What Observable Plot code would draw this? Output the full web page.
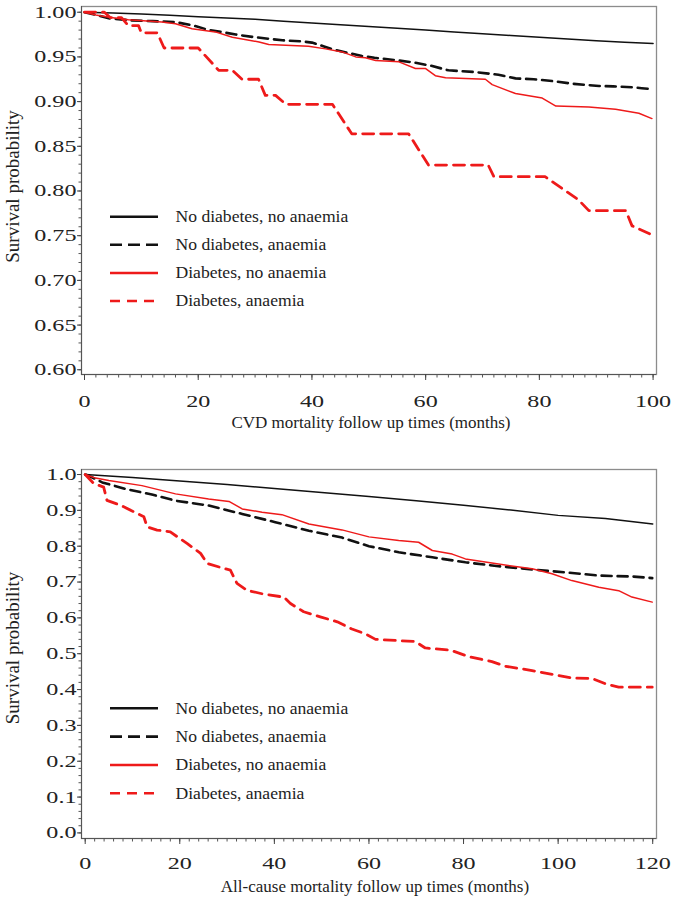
<!DOCTYPE html>
<html><head><meta charset="utf-8">
<script src="https://cdn.jsdelivr.net/npm/d3@7"></script>
<script src="https://cdn.jsdelivr.net/npm/@observablehq/plot@0.6"></script>
<style>
body{margin:0;background:#fff;}
#wrap{width:675px;height:898px;font-family:"Liberation Serif","Times New Roman",serif;}
#wrap svg{display:block;}
</style></head><body><div id="wrap"></div>
<script>
// ---------- Labels ----------
const seriesLabels = ["No diabetes, no anaemia", "No diabetes, anaemia", "Diabetes, no anaemia", "Diabetes, anaemia"];
const yTitle = "Survival probability";
const xTitleCVD = "CVD mortality follow up times (months)";
const xTitleAll = "All-cause mortality follow up times (months)";

// ---------- Tick values ----------
const cvdXTicks = [0, 20, 40, 60, 80, 100];
const cvdYTicks = [0.60, 0.65, 0.70, 0.75, 0.80, 0.85, 0.90, 0.95, 1.00];
const allXTicks = [0, 20, 40, 60, 80, 100, 120];
const allYTicks = [0.0, 0.1, 0.2, 0.3, 0.4, 0.5, 0.6, 0.7, 0.8, 0.9, 1.0];
const cvdXMinor = d3.range(0, 100.001, 2);
const cvdYMinor = d3.range(60, 101, 1).map(v => v / 100);
const allXMinor = d3.range(0, 120.001, 2);
const allYMinor = d3.range(0, 51, 1).map(v => v / 50);

// ---------- CVD mortality (top) ----------
const cvdNoDNoA_t = [0, 5, 10, 15, 20, 25, 30, 35, 40, 45, 50, 55, 60, 65, 70, 75, 80, 85, 90, 95, 100];
const cvdNoDNoA_s = [1, 0.999, 0.998, 0.9965, 0.995, 0.9935, 0.992, 0.990, 0.988, 0.986, 0.984, 0.982, 0.980, 0.978, 0.976, 0.974, 0.972, 0.970, 0.968, 0.9665, 0.965];

const cvdNoDA_t = [0, 2, 4.5, 8, 12, 16, 19.2, 21.9, 24, 26.6, 30, 34.8, 38, 40, 42, 43.6, 46, 48.8, 51, 55.3, 58.2, 61, 64, 68.8, 72.8, 75.8, 79, 82.3, 85.8, 90.5, 93, 96.3, 98, 99.8];
const cvdNoDA_s = [1, 0.997, 0.993, 0.991, 0.990, 0.989, 0.985, 0.980, 0.978, 0.975, 0.972, 0.9686, 0.9675, 0.966, 0.962, 0.9586, 0.955, 0.951, 0.949, 0.946, 0.9435, 0.940, 0.935, 0.933, 0.930, 0.926, 0.925, 0.923, 0.920, 0.9175, 0.917, 0.916, 0.915, 0.914];

const cvdDNoA_t = [0, 2, 4.3, 7.7, 13.6, 16, 18.9, 23, 26, 30.7, 32.4, 39.4, 42.4, 45.3, 47.7, 49.4, 51.2, 55.3, 58.2, 60, 61.7, 63.5, 70.5, 71.7, 75.8, 80.5, 82.9, 88.7, 93.4, 97.5, 99.8];
const cvdDNoA_s = [1, 0.997, 0.9944, 0.9915, 0.989, 0.987, 0.9815, 0.978, 0.972, 0.9667, 0.964, 0.962, 0.959, 0.9556, 0.950, 0.949, 0.946, 0.9445, 0.937, 0.937, 0.929, 0.9267, 0.925, 0.919, 0.909, 0.904, 0.895, 0.894, 0.8915, 0.887, 0.881];

const cvdDA_t = [0, 3.5, 4.5, 6.5, 7.7, 9.5, 10, 12.8, 14, 20, 23.6, 26, 27.7, 30.6, 31.8, 33.6, 35.4, 43.6, 47, 57, 60.5, 71, 72, 81, 86.9, 88.7, 95.2, 96.3, 99.8];
const cvdDA_s = [1, 1, 0.994, 0.994, 0.985, 0.985, 0.977, 0.977, 0.960, 0.960, 0.935, 0.935, 0.925, 0.925, 0.907, 0.907, 0.897, 0.897, 0.864, 0.864, 0.829, 0.829, 0.816, 0.816, 0.790, 0.778, 0.778, 0.761, 0.751];

// ---------- All-cause mortality (bottom) ----------
const allNoDNoA_t = [0, 10, 20, 30, 40, 50, 60, 70, 80, 90, 100, 110, 120];
const allNoDNoA_s = [1, 0.992, 0.982, 0.972, 0.961, 0.950, 0.939, 0.927, 0.914, 0.901, 0.886, 0.877, 0.862];

const allNoDA_t = [0, 1, 3.6, 8.5, 14.1, 19.1, 26.1, 33.2, 40.2, 47.3, 54.3, 60, 66.3, 73.4, 80.4, 87.4, 94.5, 101.5, 108.6, 115.6, 119.9];
const allNoDA_s = [1, 0.995, 0.978, 0.960, 0.944, 0.927, 0.9135, 0.890, 0.867, 0.843, 0.824, 0.800, 0.783, 0.769, 0.755, 0.744, 0.735, 0.727, 0.718, 0.7155, 0.711];

const allDNoA_t = [0, 2.2, 5, 12, 19.1, 26.1, 30.4, 33.2, 37.4, 41.6, 47.3, 54.3, 60, 66.3, 70.5, 73.4, 77.6, 80.4, 87.4, 94.5, 98.7, 102.9, 108.6, 112.8, 115.6, 119.9];
const allDNoA_s = [1, 0.99, 0.983, 0.969, 0.946, 0.932, 0.925, 0.904, 0.895, 0.888, 0.862, 0.8455, 0.826, 0.816, 0.811, 0.788, 0.778, 0.7645, 0.750, 0.737, 0.723, 0.704, 0.6855, 0.676, 0.658, 0.644];

const allDA_t = [0, 1.8, 3.9, 4.6, 7.5, 10.3, 12.4, 13.1, 15.2, 18, 19.5, 21.6, 24.4, 25.8, 29.3, 30.7, 32.1, 34.2, 37.8, 42, 43.4, 46.2, 49.7, 53.3, 56.4, 59.3, 61.4, 69.8, 71.9, 77.2, 81.3, 86, 88.9, 94.5, 100.1, 102.9, 107.2, 110, 112.8, 119.9];
const allDA_s = [1, 0.975, 0.965, 0.928, 0.914, 0.896, 0.882, 0.854, 0.845, 0.840, 0.826, 0.807, 0.780, 0.752, 0.738, 0.733, 0.696, 0.677, 0.666, 0.658, 0.640, 0.617, 0.603, 0.589, 0.569, 0.555, 0.540, 0.534, 0.516, 0.510, 0.491, 0.478, 0.465, 0.453, 0.439, 0.432, 0.431, 0.416, 0.4065, 0.4065];

// ---------- Styles ----------
const BLACK = "#111111", RED = "#ee1a1a";
const styles = [
  {color: BLACK, w: 1.5, dash: null, lw: 2.5, ldash: null},
  {color: BLACK, w: 2.6, dash: "10,6", lw: 2.6, ldash: "12,6"},
  {color: RED, w: 1.5, dash: null, lw: 2.5, ldash: null},
  {color: RED, w: 2.8, dash: "11,7", lw: 2.6, ldash: "10,7"}
];

// horizontally stretch text glyphs (the reference type is wide)
function stretch(root, sel, k) {
  root.querySelectorAll(sel).forEach(t => {
    const tr = t.getAttribute("transform") || "";
    t.setAttribute("transform", tr + ` scale(${k},1)`);
  });
}

function chart(o) {
  const marks = [
    Plot.frame({stroke: "#8c8c8c", strokeWidth: 1.3}),
    Plot.ruleX([o.xDomain[0]], {stroke: "#555"}),
    Plot.ruleY([o.yDomain[0]], {stroke: "#555"}),
    Plot.axisY({ticks: o.yMinor, tickSize: 2.5, tickFormat: () => "", label: null, stroke: "#555"}),
    Plot.axisX({ticks: o.xMinor, tickSize: 3.5, tickFormat: () => "", label: null, stroke: "#555"}),
    Plot.axisY({ticks: o.yTicks, tickSize: 4, tickPadding: 1, tickFormat: d3.format(o.yFmt), label: null, fontSize: 17, stroke: "#444", fill: "#222"}),
    Plot.axisX({ticks: o.xTicks, tickSize: 6, tickPadding: o.xPad, tickFormat: d => String(d), label: null, fontSize: 17, stroke: "#444", fill: "#222"}),
    ...o.series.map((s, i) => Plot.line(d3.zip(s.t, s.s), {
      x: d => d[0], y: d => d[1], stroke: styles[i].color, strokeWidth: styles[i].w,
      strokeDasharray: styles[i].dash, curve: "linear"
    })),
    Plot.text([o.xTitle], {text: d => d, frameAnchor: "bottom", lineAnchor: "middle", textAnchor: "middle", dy: o.xTitleDy, dx: o.xTitleDx, fontSize: 17, fill: "#222", ariaLabel: "x-title"}),
    Plot.text([yTitle], {text: d => d, frameAnchor: "left", lineAnchor: "middle", textAnchor: "middle", dx: -69, dy: o.yTitleDy, rotate: -90, fontSize: 19, fill: "#222", ariaLabel: "y-title"})
  ];
  const svg = Plot.plot({
    width: 675, height: o.height,
    marginLeft: 81, marginRight: 19, marginTop: o.marginTop, marginBottom: o.marginBottom,
    x: {domain: o.xDomain, label: null},
    y: {domain: o.yDomain, label: null},
    style: {fontFamily: '"Liberation Serif", "Times New Roman", serif', background: "#fff", color: "#222", overflow: "visible"},
    marks
  });
  stretch(svg, 'g[aria-label="y-axis tick label"] text', 1.42);
  stretch(svg, 'g[aria-label="x-axis tick label"] text', 1.42);
  stretch(svg, 'g[aria-label="x-title"] text', 1.08);
  stretch(svg, 'g[aria-label="y-title"] text', 1.13);
  // legend
  const lg = d3.select(svg).append("g").attr("aria-label", "legend").attr("text-anchor", "start");
  seriesLabels.forEach((lab, i) => {
    const y = o.legendTop + i * o.legendStep;
    lg.append("line").attr("x1", 110).attr("x2", 158).attr("y1", y).attr("y2", y)
      .attr("stroke", styles[i].color).attr("stroke-width", styles[i].lw)
      .attr("stroke-dasharray", styles[i].ldash);
    lg.append("text").attr("transform", `translate(175.5,${y + 5.3}) scale(1.1,1)`)
      .attr("text-anchor", "start").attr("font-size", 16).attr("fill", "#222").text(lab);
  });
  return svg;
}

const wrap = document.getElementById("wrap");
wrap.appendChild(chart({
  series: [
    {t: cvdNoDNoA_t, s: cvdNoDNoA_s}, {t: cvdNoDA_t, s: cvdNoDA_s},
    {t: cvdDNoA_t, s: cvdDNoA_s}, {t: cvdDA_t, s: cvdDA_s}
  ],
  xDomain: [-0.53, 100.6], yDomain: [0.5947, 1.0064],
  xTicks: cvdXTicks, yTicks: cvdYTicks, xMinor: cvdXMinor, yMinor: cvdYMinor, yFmt: ".2f",
  height: 440, marginTop: 6, marginBottom: 66, xPad: 14.5,
  xTitle: xTitleCVD, xTitleDy: 47.7, xTitleDx: 2, yTitleDy: -4,
  legendTop: 216.7, legendStep: 28.1
}));
wrap.appendChild(chart({
  series: [
    {t: allNoDNoA_t, s: allNoDNoA_s}, {t: allNoDA_t, s: allNoDA_s},
    {t: allDNoA_t, s: allDNoA_s}, {t: allDA_t, s: allDA_s}
  ],
  xDomain: [-0.78, 120.8], yDomain: [-0.0156, 1.014],
  xTicks: allXTicks, yTicks: allYTicks, xMinor: allXMinor, yMinor: allYMinor, yFmt: ".1f",
  height: 458, marginTop: 29, marginBottom: 60, xPad: 12.7,
  xTitle: xTitleAll, xTitleDy: 48.4, xTitleDx: 6, yTitleDy: -6,
  legendTop: 268.3, legendStep: 28.3
}));
</script>
</body></html>
